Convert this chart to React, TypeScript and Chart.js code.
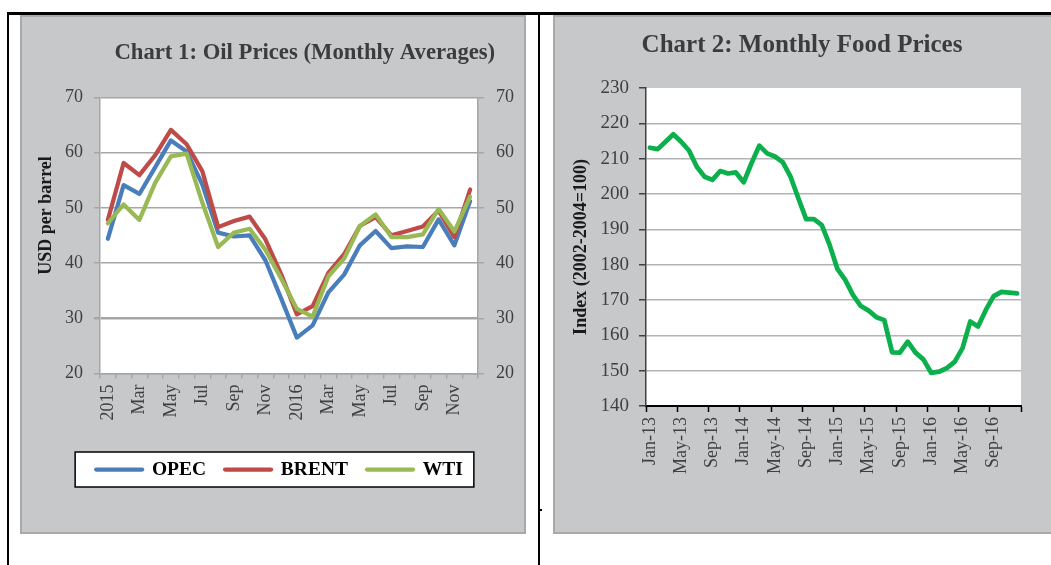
import React, { useEffect, useRef } from 'react';
import { Chart, registerables } from 'chart.js';

Chart.register(...registerables);

const SERIF = "'Liberation Serif', 'Times New Roman', Times, serif";

// ---------- Chart 1: Oil prices (monthly averages), USD per barrel ----------
const oilMonths = [
  '2015', 'Feb', 'Mar', 'Apr', 'May', 'Jun', 'Jul', 'Aug', 'Sep', 'Oct', 'Nov', 'Dec',
  '2016', 'Feb', 'Mar', 'Apr', 'May', 'Jun', 'Jul', 'Aug', 'Sep', 'Oct', 'Nov', 'Dec',
];
const opecPrices = [
  44.4, 54.1, 52.5, 57.3, 62.2, 60.2, 54.2, 45.5, 44.8, 45.0, 40.5, 33.6,
  26.5, 28.7, 34.7, 37.9, 43.2, 45.8, 42.7, 43.0, 42.9, 47.9, 43.2, 51.2,
];
const brentPrices = [
  47.8, 58.1, 55.9, 59.5, 64.1, 61.5, 56.6, 46.5, 47.6, 48.4, 44.3, 38.0,
  30.7, 32.2, 38.2, 41.6, 46.7, 48.3, 45.0, 45.8, 46.6, 49.5, 44.7, 53.3,
];
const wtiPrices = [
  47.2, 50.6, 47.8, 54.5, 59.3, 59.8, 50.9, 42.9, 45.5, 46.2, 42.4, 37.2,
  31.7, 30.3, 37.6, 40.8, 46.7, 48.8, 44.7, 44.7, 45.2, 49.8, 45.7, 52.0,
];
const oilAxis = { min: 20, max: 70, step: 10 };

// ---------- Chart 2: Monthly food prices, index 2002-2004=100 ----------
const foodYears = ['13', '14', '15', '16'];
const monthNames = ['Jan', 'Feb', 'Mar', 'Apr', 'May', 'Jun', 'Jul', 'Aug', 'Sep', 'Oct', 'Nov', 'Dec'];
const foodMonths = foodYears.flatMap((y) => monthNames.map((m) => `${m}-${y}`));
const foodIndex = [
  213.1, 212.7, 214.8, 216.9, 214.8, 212.3, 207.7, 204.9, 204.0, 206.5, 205.8, 206.1,
  203.3, 208.7, 213.7, 211.5, 210.6, 209.0, 204.9, 198.8, 192.9, 192.9, 191.2, 185.6,
  178.8, 175.7, 171.4, 168.3, 167.0, 165.1, 164.3, 155.2, 155.1, 158.2, 155.1, 153.2,
  149.4, 149.7, 150.7, 152.5, 156.3, 163.9, 162.5, 167.2, 171.1, 172.3, 172.1, 171.9,
];
const foodAxis = { min: 140, max: 230, step: 10 };

const TRANSPARENT = 'rgba(0,0,0,0)';

const oilDecor = {
  id: 'oilDecor',
  beforeDraw(chart: any) {
    const { ctx, chartArea: a } = chart;
    ctx.save();
    ctx.fillStyle = '#ffffff';
    ctx.fillRect(a.left, a.top, a.right - a.left, a.bottom - a.top);
    const hb = chart.legend && chart.legend.legendHitBoxes;
    if (hb && hb.length) {
      const first = hb[0];
      const last = hb[hb.length - 1];
      const cy = first.top + first.height / 2;
      const x0 = first.left - 21;
      const x1 = last.left + last.width + 11;
      ctx.fillRect(x0, cy - 17.5, x1 - x0, 35);
      ctx.strokeStyle = '#000000';
      ctx.lineWidth = 1.5;
      ctx.strokeRect(x0, cy - 17.5, x1 - x0, 35);
    }
    ctx.restore();
  },
  afterDraw(chart: any) {
    const { ctx } = chart;
    ctx.save();
    ctx.fillStyle = '#3c3c3c';
    ctx.font = `bold 22.7px ${SERIF}`;
    ctx.textAlign = 'center';
    ctx.textBaseline = 'middle';
    ctx.fillText('Chart 1: Oil Prices (Monthly Averages)', 284.8, 38);
    ctx.translate(26.5, 200.5);
    ctx.rotate(-Math.PI / 2);
    ctx.fillStyle = '#1a1a1a';
    ctx.font = `bold 18px ${SERIF}`;
    ctx.fillText('USD per barrel', 0, 0);
    ctx.restore();
  },
};

const foodDecor = {
  id: 'foodDecor',
  beforeDraw(chart: any) {
    const { ctx, chartArea: a } = chart;
    ctx.save();
    ctx.fillStyle = '#ffffff';
    ctx.fillRect(a.left, a.top, a.right - a.left, a.bottom - a.top);
    ctx.restore();
  },
  afterDraw(chart: any) {
    const { ctx } = chart;
    ctx.save();
    ctx.fillStyle = '#3c3c3c';
    ctx.font = `bold 25px ${SERIF}`;
    ctx.textAlign = 'center';
    ctx.textBaseline = 'middle';
    ctx.fillText('Chart 2: Monthly Food Prices', 249, 30.7);
    ctx.restore();
  },
};

function oilConfig(): any {
  const tickFont = { family: SERIF, size: 18 };
  const gridGray = '#a6a6a6';
  const line = (label: string, data: number[], color: string, order: number) => ({
    label,
    data,
    borderColor: color,
    backgroundColor: color,
    borderWidth: 4.25,
    tension: 0,
    fill: false,
    pointRadius: 0,
    pointHoverRadius: 0,
    borderCapStyle: 'round',
    borderJoinStyle: 'round',
    order,
  });
  return {
    type: 'line',
    data: {
      labels: oilMonths,
      datasets: [
        line('OPEC', opecPrices, '#4a7ebb', 3),
        line('BRENT', brentPrices, '#be4b48', 2),
        line('WTI', wtiPrices, '#98b954', 1),
      ],
    },
    options: {
      responsive: false,
      animation: false,
      events: [],
      layout: { padding: { top: 82.3, left: 13, right: 0, bottom: 44.75 } },
      scales: {
        x: {
          type: 'category',
          offset: true,
          grid: { offset: true, drawOnChartArea: false, drawTicks: true, tickLength: 5, color: gridGray, lineWidth: 1.5 },
          border: { display: true, color: gridGray, width: 1.5 },
          ticks: {
            autoSkip: false,
            minRotation: 90,
            maxRotation: 90,
            padding: 6,
            color: '#404040',
            font: tickFont,
            callback: (_v: any, i: number) => (i % 2 === 0 ? oilMonths[i] : ''),
          },
          afterFit: (s: any) => { s.height = 67.25; },
        },
        y: {
          position: 'left',
          min: oilAxis.min,
          max: oilAxis.max,
          ticks: { stepSize: oilAxis.step, padding: 11, color: '#404040', font: tickFont },
          grid: {
            color: gridGray,
            lineWidth: (c: any) => (c.tick && c.tick.value === 30 ? 2.5 : 1.5),
            drawTicks: true,
            tickLength: 6,
          },
          border: { display: true, color: gridGray, width: 1.5 },
          afterFit: (s: any) => { s.width = 67; },
        },
        y2: {
          position: 'right',
          min: oilAxis.min,
          max: oilAxis.max,
          ticks: { stepSize: oilAxis.step, padding: 12, color: '#404040', font: tickFont },
          grid: { drawOnChartArea: false, drawTicks: true, tickLength: 6, color: gridGray, lineWidth: 1.5 },
          border: { display: true, color: gridGray, width: 1.5 },
          afterFit: (s: any) => { s.width = 48; },
        },
      },
      plugins: {
        title: { display: false },
        tooltip: { enabled: false },
        legend: {
          display: true,
          position: 'bottom',
          labels: {
            usePointStyle: true,
            pointStyle: 'line',
            pointStyleWidth: 46,
            padding: 19,
            color: '#000000',
            font: { family: SERIF, size: 19.5, weight: 'bold' },
            generateLabels: (chart: any) =>
              Chart.defaults.plugins.legend.labels
                .generateLabels(chart)
                .map((l: any) => ({ ...l, lineCap: 'round', lineWidth: 4.25 })),
            sort: (a: any, b: any) => a.datasetIndex - b.datasetIndex,
          },
        },
      },
    },
    plugins: [oilDecor],
  };
}

function foodConfig(): any {
  return {
    type: 'line',
    data: {
      labels: foodMonths,
      datasets: [
        {
          label: 'Food Price Index',
          data: foodIndex,
          borderColor: '#0bb04c',
          backgroundColor: '#0bb04c',
          borderWidth: 4.75,
          tension: 0,
          fill: false,
          pointRadius: 0,
          pointHoverRadius: 0,
          borderCapStyle: 'round',
          borderJoinStyle: 'round',
        },
      ],
    },
    options: {
      responsive: false,
      animation: false,
      events: [],
      layout: { padding: { top: 73, left: 0, right: 30, bottom: 0 } },
      scales: {
        x: {
          type: 'category',
          offset: true,
          grid: {
            offset: true,
            drawOnChartArea: false,
            drawTicks: true,
            tickLength: 6,
            tickWidth: 1.5,
            color: '#000000',
            tickColor: (c: any) => (c.index === undefined || c.index % 4 === 0 ? '#000000' : TRANSPARENT),
          },
          border: { display: true, color: '#000000', width: 2 },
          ticks: {
            autoSkip: false,
            minRotation: 90,
            maxRotation: 90,
            padding: 5,
            color: '#404040',
            font: { family: SERIF, size: 18 },
            callback: (_v: any, i: number) => (i % 4 === 0 ? foodMonths[i] : ''),
          },
          afterFit: (s: any) => { s.height = 128; },
        },
        y: {
          position: 'left',
          min: foodAxis.min,
          max: foodAxis.max,
          ticks: { stepSize: foodAxis.step, padding: 10, color: '#404040', font: { family: SERIF, size: 19 } },
          grid: {
            color: (c: any) => (c.tick && c.tick.value === foodAxis.max ? TRANSPARENT : '#b4b4b4'),
            lineWidth: 1.5,
            drawTicks: true,
            tickLength: 7,
            tickWidth: 1.5,
            tickColor: '#404040',
          },
          border: { display: true, color: '#404040', width: 1.5 },
          title: {
            display: true,
            text: 'Index (2002-2004=100)',
            color: '#1a1a1a',
            font: { family: SERIF, size: 18, weight: 'bold' },
            padding: { top: 18, bottom: 0 },
          },
          afterFit: (s: any) => { s.width = 93; },
        },
      },
      plugins: {
        title: { display: false },
        tooltip: { enabled: false },
        legend: { display: false },
      },
    },
    plugins: [foodDecor],
  };
}

export default function App() {
  const oilRef = useRef<HTMLCanvasElement>(null);
  const foodRef = useRef<HTMLCanvasElement>(null);

  useEffect(() => {
    const c1 = new Chart(oilRef.current as HTMLCanvasElement, oilConfig());
    const c2 = new Chart(foodRef.current as HTMLCanvasElement, foodConfig());
    return () => {
      c1.destroy();
      c2.destroy();
    };
  }, []);

  const abs = (left: number, top: number, width: number, height: number, extra: any = {}) => ({
    position: 'absolute' as const,
    left,
    top,
    width,
    height,
    ...extra,
  });

  return (
    <div style={abs(0, 0, 1051, 565, { background: '#ffffff', overflow: 'hidden' })}>
      <div style={abs(7, 12, 1044, 3, { background: '#000' })} />
      <div style={abs(7, 12, 2, 553, { background: '#000' })} />
      <div style={abs(538, 12, 2, 553, { background: '#000' })} />
      <div style={abs(540, 509, 2, 2, { background: '#000' })} />
      <div style={abs(20, 15, 506, 519, { background: '#c7c8ca', border: '2px solid #a9a9a9', boxSizing: 'border-box' })} />
      <div style={abs(553, 15, 500, 519, { background: '#c7c8ca', border: '2px solid #a9a9a9', boxSizing: 'border-box' })} />
      <canvas ref={oilRef} width={506} height={519} style={abs(20, 15, 506, 519, { display: 'block' })} />
      <canvas ref={foodRef} width={498} height={519} style={abs(553, 15, 498, 519, { display: 'block' })} />
    </div>
  );
}
